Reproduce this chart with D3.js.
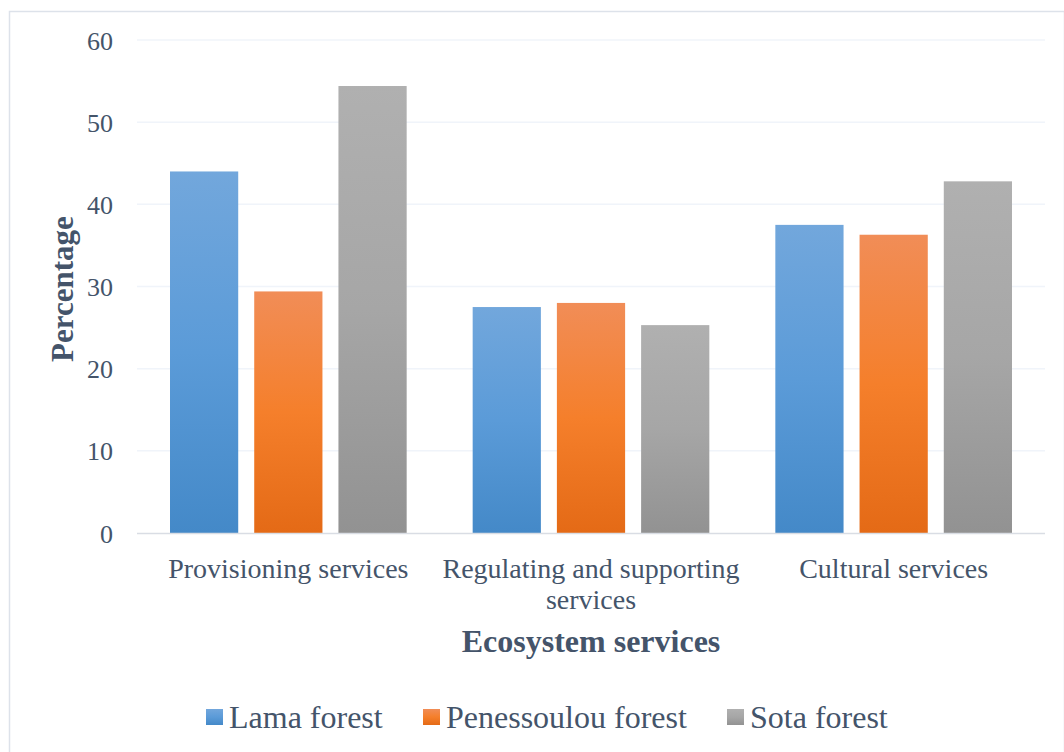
<!DOCTYPE html>
<html>
<head>
<meta charset="utf-8">
<script src="https://cdn.jsdelivr.net/npm/d3@7"></script>
<style>
  body { margin: 0; background: #fff; }
  text { font-family: "Liberation Serif", "Times New Roman", serif; fill: #44546a; }
</style>
</head>
<body>
<div id="chart"></div>
<script>
var categories = ["Provisioning services", "Regulating and supporting services", "Cultural services"];
var categoryLines = [["Provisioning services"], ["Regulating and supporting", "services"], ["Cultural services"]];
var seriesNames = ["Lama forest", "Penessoulou forest", "Sota forest"];
var lamaValues = [44.0, 27.5, 37.5];
var penessoulouValues = [29.4, 28.0, 36.3];
var sotaValues = [54.4, 25.3, 42.8];
var yTicks = [0, 10, 20, 30, 40, 50, 60];

var W = 1064, H = 752;
var margin = { top: 40, right: 19, bottom: 219, left: 137 };
var width = W - margin.left - margin.right;
var height = H - margin.top - margin.bottom;

var gradients = [
    ["#72a7dc", "#5b9bd8", "#4489c8"],
    ["#f18d57", "#f57f2b", "#e46a16"],
    ["#b0b0b0", "#a6a6a6", "#929292"]
];

var svg = d3.select("#chart").append("svg")
    .attr("width", W)
    .attr("height", H);

var defs = svg.append("defs");
gradients.forEach(function(g, i) {
    var lg = defs.append("linearGradient")
        .attr("id", "grad" + i)
        .attr("x1", 0).attr("y1", 0).attr("x2", 0).attr("y2", 1);
    lg.append("stop").attr("offset", "0%").attr("stop-color", g[0]);
    lg.append("stop").attr("offset", "50%").attr("stop-color", g[1]);
    lg.append("stop").attr("offset", "100%").attr("stop-color", g[2]);
});

// outer frame
svg.append("rect")
    .attr("x", 9.5).attr("y", 11.5)
    .attr("width", W - 9).attr("height", H - 8)
    .attr("fill", "none")
    .attr("stroke", "#dde2ea")
    .attr("stroke-width", 1.5);

var g = svg.append("g")
    .attr("transform", "translate(" + margin.left + "," + margin.top + ")");

var x0 = d3.scaleBand().domain(categories).range([0, width]).paddingInner(0).paddingOuter(0);
var x1 = d3.scaleBand().domain(seriesNames).range([33, x0.bandwidth() - 33]).paddingInner(0.19);
var y = d3.scaleLinear().domain([0, 60]).range([height, 0]);

// gridlines
g.selectAll(".grid")
    .data(yTicks.slice(1))
    .enter().append("line")
    .attr("x1", 0).attr("x2", width)
    .attr("y1", function(d) { return y(d); })
    .attr("y2", function(d) { return y(d); })
    .attr("stroke", "#f0f4fa")
    .attr("stroke-width", 1.5);

var yAxis = d3.axisLeft(y).tickValues(yTicks).tickSize(0).tickPadding(0);
var yg = g.append("g").call(yAxis);
yg.select(".domain").remove();
yg.selectAll("text")
    .attr("x", -24)
    .attr("dy", "0.35em")
    .style("font-family", "Liberation Serif, Times New Roman, serif")
    .style("font-size", "26px")
    .style("fill", "#44546a");

var rows = categories.map(function(c, i) {
    return { cat: c, values: [lamaValues[i], penessoulouValues[i], sotaValues[i]] };
});

var groups = g.selectAll(".group")
    .data(rows)
    .enter().append("g")
    .attr("transform", function(d) { return "translate(" + x0(d.cat) + ",0)"; });

groups.selectAll("rect")
    .data(function(d) { return d.values.map(function(v, i) { return { name: seriesNames[i], value: v, i: i }; }); })
    .enter().append("rect")
    .attr("x", function(d) { return x1(d.name); })
    .attr("width", x1.bandwidth())
    .attr("y", function(d) { return y(d.value); })
    .attr("height", function(d) { return height - y(d.value); })
    .attr("fill", function(d) { return "url(#grad" + d.i + ")"; });

// baseline
g.append("line")
    .attr("x1", 0).attr("x2", width)
    .attr("y1", height + 0.5).attr("y2", height + 0.5)
    .attr("stroke", "#d9dde4")
    .attr("stroke-width", 1.5);

// category labels
var xg = g.append("g");
categories.forEach(function(c, i) {
    var t = xg.append("text")
        .attr("text-anchor", "middle")
        .attr("x", x0(c) + x0.bandwidth() / 2)
        .attr("y", height + 45)
        .style("font-size", "28px");
    categoryLines[i].forEach(function(line, k) {
        t.append("tspan")
            .attr("x", x0(c) + x0.bandwidth() / 2)
            .attr("dy", k === 0 ? 0 : 31)
            .text(line);
    });
});

// axis titles
svg.append("text")
    .attr("text-anchor", "middle")
    .attr("x", margin.left + width / 2)
    .attr("y", 652)
    .style("font-size", "32px")
    .style("font-weight", "bold")
    .text("Ecosystem services");

svg.append("text")
    .attr("text-anchor", "middle")
    .attr("transform", "translate(73,289) rotate(-90)")
    .style("font-size", "31px")
    .style("font-weight", "bold")
    .text("Percentage");

// legend
var legendX = [206, 423, 727];
var legend = svg.selectAll(".legend")
    .data(seriesNames)
    .enter().append("g")
    .attr("transform", function(d, i) { return "translate(" + legendX[i] + ",709)"; });

legend.append("rect")
    .attr("width", 17).attr("height", 16)
    .attr("fill", function(d, i) { return "url(#grad" + i + ")"; });

legend.append("text")
    .attr("x", 23)
    .attr("y", 19)
    .style("font-size", "32px")
    .text(function(d) { return d; });
</script>
</body>
</html>
